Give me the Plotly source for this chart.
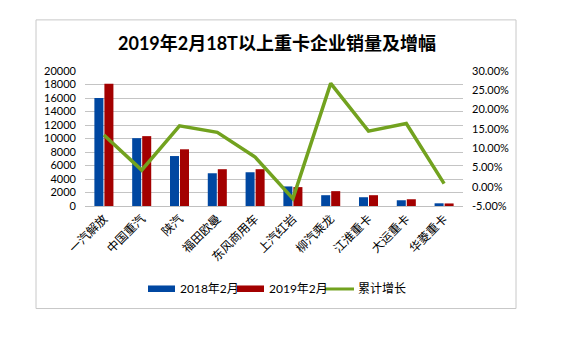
import plotly.graph_objects as go

categories = ["一汽解放", "中国重汽", "陕汽", "福田欧曼", "东风商用车",
              "上汽红岩", "柳汽乘龙", "江淮重卡", "大运重卡", "华菱重卡"]
sales_2018 = [16000, 10050, 7400, 4850, 5000, 2900, 1600, 1300, 850, 400]
sales_2019 = [18100, 10350, 8400, 5450, 5450, 2800, 2200, 1600, 1000, 380]
growth = [0.134, 0.043, 0.158, 0.141, 0.077, -0.031, 0.268, 0.144, 0.164, 0.008]
series_names = ["2018年2月", "2019年2月", "累计增长"]
left_ticks = list(range(0, 20001, 2000))
right_ticks = [-0.05, 0.0, 0.05, 0.10, 0.15, 0.20, 0.25, 0.30]

BLUE = "#0047A1"
RED = "#A30000"
GREEN = "#72A21F"
FONT = "Lato, Noto Sans CJK SC, sans-serif"

W, H = 572, 351
L, R, T, B = 85, 463, 71, 205.7


def px(x):
    return (x - L) / (R - L)


def py(y):
    return (B - y) / (B - T)


fig = go.Figure()
fig.add_trace(go.Bar(x=categories, y=sales_2018, name=series_names[0],
                     marker=dict(color=BLUE, line=dict(width=0)), showlegend=False))
fig.add_trace(go.Bar(x=categories, y=sales_2019, name=series_names[1],
                     marker=dict(color=RED, line=dict(width=0)), showlegend=False))
fig.add_trace(go.Scatter(x=categories, y=growth, name=series_names[2], mode="lines",
                         line=dict(color=GREEN, width=3.5), yaxis="y2", showlegend=False))

shapes = [
    dict(type="rect", xref="paper", yref="paper", x0=px(36), x1=px(516), y0=py(308), y1=py(20),
         line=dict(color="#c8c8c8", width=1), fillcolor="rgba(0,0,0,0)", layer="below"),
    # legend swatches
    dict(type="rect", xref="paper", yref="paper", x0=px(148), x1=px(175), y0=py(291.5), y1=py(285),
         line=dict(width=0), fillcolor=BLUE),
    dict(type="rect", xref="paper", yref="paper", x0=px(237), x1=px(264), y0=py(291.5), y1=py(285),
         line=dict(width=0), fillcolor=RED),
    dict(type="line", xref="paper", yref="paper", x0=px(325), x1=px(354), y0=py(288.5), y1=py(288.5),
         line=dict(color=GREEN, width=3)),
]

annotations = [
    dict(text="<b>2019年2月18T以上重卡企业销量及增幅</b>", xref="paper", yref="paper",
         x=px(277), y=py(43), showarrow=False, xanchor="center", yanchor="middle",
         font=dict(family=FONT, size=18, color="#000000")),
    dict(text=series_names[0], xref="paper", yref="paper", x=px(178), y=py(288.5), showarrow=False,
         xanchor="left", yanchor="middle", font=dict(family=FONT, size=12, color="#000")),
    dict(text=series_names[1], xref="paper", yref="paper", x=px(267), y=py(288.5), showarrow=False,
         xanchor="left", yanchor="middle", font=dict(family=FONT, size=12, color="#000")),
    dict(text=series_names[2], xref="paper", yref="paper", x=px(356), y=py(288.5), showarrow=False,
         xanchor="left", yanchor="middle", font=dict(family=FONT, size=12, color="#000")),
]

fig.update_layout(
    width=W, height=H,
    margin=dict(l=L, r=W - R, t=T, b=H - B, pad=0),
    paper_bgcolor="white", plot_bgcolor="white",
    barmode="group", bargap=0.47, bargroupgap=0.1,
    font=dict(family=FONT, size=11, color="#000"),
    xaxis=dict(tickangle=-45, tickfont=dict(size=12), showgrid=False, showline=True,
               linecolor="#c0c0c0", linewidth=1, ticks="", ticklen=0),
    yaxis=dict(range=[0, 20000], tickvals=left_ticks, ticktext=[str(v) for v in left_ticks],
               showgrid=True, gridcolor="#c4c4c4", gridwidth=1, zeroline=False,
               showline=False, ticks="", tickfont=dict(size=11), ticklabelstandoff=8),
    yaxis2=dict(range=[-0.05, 0.30], overlaying="y", side="right", tickvals=right_ticks,
                ticktext=[f"{v*100:.2f}%" for v in right_ticks], showgrid=False,
                zeroline=False, showline=False, ticks="", tickfont=dict(size=11),
                ticklabelstandoff=8),
    shapes=shapes, annotations=annotations, showlegend=False,
)

fig.write_html("out.html")
